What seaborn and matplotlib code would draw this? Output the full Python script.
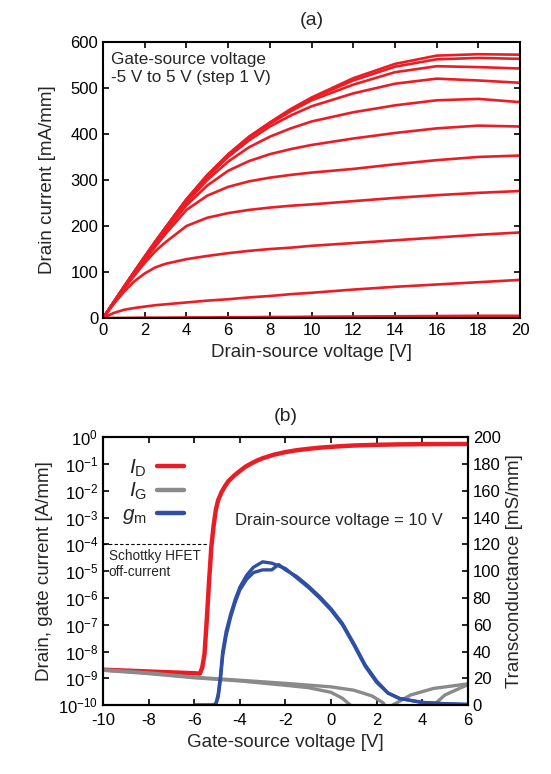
import numpy as np
import pandas as pd
import matplotlib
matplotlib.use('Agg')
import matplotlib.pyplot as plt
from matplotlib.lines import Line2D
import seaborn as sns

sns.set_theme(style='ticks')
plt.rcParams['font.family'] = ['Liberation Sans', 'DejaVu Sans']
plt.rcParams['mathtext.fontset'] = 'custom'
plt.rcParams['mathtext.rm'] = 'Liberation Sans'
plt.rcParams['mathtext.it'] = 'Liberation Sans:italic'
plt.rcParams['axes.unicode_minus'] = False

RED = '#ec1c24'
GRAY = '#8a8a8a'
BLUE = '#2f4fa3'

# (a) output characteristics, one list per gate voltage
vds = [0, 0.5, 1, 1.5, 2, 2.5, 3, 4, 5, 6, 7, 8, 9, 10, 12, 14, 16, 18, 20]
id_m5 = [0, 0.3, 0.5, 0.7, 1, 1, 1, 1.5, 1.5, 2, 2, 2.5, 2.5, 3, 3.5, 4, 4.5, 5, 5]
id_m4 = [0, 11, 18, 22, 25, 28, 30, 34, 38, 41, 45, 48, 52, 55, 62, 68, 73, 78, 83]
id_m3 = [0, 30, 57, 80, 97, 110, 118, 128, 135, 141, 146, 150, 153, 157, 163, 169, 175, 181, 186]
id_m2 = [0, 32, 63, 92, 120, 145, 165, 200, 218, 228, 235, 240, 244, 247, 254, 261, 267, 272, 276]
id_m1 = [0, 33, 65, 96, 126, 155, 183, 235, 266, 285, 297, 305, 311, 316, 324, 334, 343, 350, 353]
id_0 = [0, 33, 66, 98, 129, 159, 189, 245, 288, 320, 341, 356, 367, 376, 390, 402, 412, 418, 416]
id_p1 = [0, 34, 67, 99, 131, 162, 193, 251, 300, 340, 371, 394, 412, 427, 447, 462, 473, 476, 469]
id_p2 = [0, 34, 67, 100, 132, 164, 195, 255, 306, 350, 386, 416, 440, 460, 488, 509, 520, 516, 511]
id_p3 = [0, 34, 68, 101, 133, 165, 196, 257, 309, 354, 392, 422, 449, 473, 507, 534, 547, 545, 542]
id_p4 = [0, 34, 68, 101, 134, 166, 197, 258, 310, 355, 393, 424, 452, 477, 516, 546, 562, 565, 563]
id_p5 = [0, 34, 68, 101, 134, 166, 197, 258, 311, 356, 394, 425, 454, 479, 521, 552, 570, 573, 572]
vgs_list = [-5, -4, -3, -2, -1, 0, 1, 2, 3, 4, 5]
curves = [id_m5, id_m4, id_m3, id_m2, id_m1, id_0, id_p1, id_p2, id_p3, id_p4, id_p5]

out_df = pd.concat([pd.DataFrame({'vds': vds, 'id': c, 'vgs': g})
                    for g, c in zip(vgs_list, curves)])

# (b) transfer characteristics at Vds = 10 V
vg_d = [-10, -8, -6, -5.75, -5.65, -5.55, -5.45, -5.35, -5.25, -5.15, -5.05, -4.95,
        -4.8, -4.65, -4.5, -4.25, -4, -3.75, -3.5, -3.25, -3, -2.5, -2, -1.5, -1, -0.5,
        0, 0.5, 1, 1.5, 2, 3, 4, 6]
i_d = [2.1e-9, 1.8e-9, 1.55e-9, 1.5e-9, 2.5e-9, 8e-9, 1.5e-7, 4e-6, 8e-5, 5e-4, 2e-3, 4.5e-3,
       9e-3, 1.5e-2, 2.3e-2, 3.7e-2, 0.055, 0.08, 0.105, 0.135, 0.165, 0.225, 0.28, 0.33,
       0.37, 0.41, 0.44, 0.47, 0.495, 0.51, 0.525, 0.545, 0.555, 0.565]

vg_g1 = [-10, -8, -6, -4, -2, -1, 0, 0.5, 0.85, 1.1, 2.4, 2.7, 3.5, 4.5, 6]
i_g1 = [2.0e-9, 1.5e-9, 1.05e-9, 8e-10, 5.5e-10, 4.5e-10, 3e-10, 1.8e-10, 1e-10, 3e-11,
        3e-11, 1e-10, 2.4e-10, 4.2e-10, 6.2e-10]
vg_g2 = [-10, -8, -6, -4, -2, 0, 1, 1.8, 2.3, 2.5, 4.2, 4.5, 5, 6]
i_g2 = [2.1e-9, 1.6e-9, 1.1e-9, 8.5e-10, 6.5e-10, 4.8e-10, 3.6e-10, 2.2e-10, 1.2e-10,
        3e-11, 3e-11, 1e-10, 2.4e-10, 5.8e-10]

vg_m = [-6, -5.2, -5.05, -4.95, -4.85, -4.75, -4.6, -4.4, -4.2, -4.0, -3.7, -3.4, -3.0,
        -2.6, -2.3, -2.0, -1.5, -1.0, -0.5, 0, 0.5, 1.0, 1.5, 2.0, 2.5, 3, 4, 5, 6]
gm_1 = [0, 0, 1, 8, 22, 40, 55, 68, 79, 88, 97, 103, 107, 106, 104,
        102, 95, 88, 80, 71, 60, 45, 29, 17, 9, 5, 2, 1, 0.5]
gm_2 = [0, 0, 1, 6, 19, 37, 52, 66, 77, 86, 94, 99, 101, 101, 105,
        101, 96, 89, 81, 72, 61, 46, 30, 18, 9, 5, 2, 1, 0.5]

fig = plt.figure(figsize=(5.51, 7.74), dpi=100)
ax_a = fig.add_axes([0.187, 0.589, 0.757, 0.357])
ax_b = fig.add_axes([0.187, 0.089, 0.662, 0.346])

sns.lineplot(data=out_df, x='vds', y='id', hue='vgs', palette=[RED] * 11,
             estimator=None, legend=False, linewidth=1.9, ax=ax_a)
ax_a.set_xlim(0, 20)
ax_a.set_ylim(0, 600)
ax_a.set_xticks(range(0, 21, 2))
ax_a.set_yticks(range(0, 601, 100))
ax_a.set_xlabel('Drain-source voltage [V]', fontsize=13.5)
ax_a.set_ylabel('Drain current [mA/mm]', fontsize=13.5, labelpad=10)
ax_a.set_title('(a)', fontsize=14, pad=12)
ax_a.text(0.4, 578, 'Gate-source voltage\n-5 V to 5 V (step 1 V)', fontsize=12.3,
          va='top', ha='left', linespacing=1.25)

# (b)
sns.lineplot(x=vg_d, y=i_d, color=RED, linewidth=3.2, sort=False, estimator=None, ax=ax_b)
sns.lineplot(x=vg_g1, y=i_g1, color=GRAY, linewidth=2.4, sort=False, estimator=None, ax=ax_b)
sns.lineplot(x=vg_g2, y=i_g2, color=GRAY, linewidth=2.4, sort=False, estimator=None, ax=ax_b)
ax_b.set_yscale('log')
ax_b.set_xlim(-10, 6)
ax_b.set_ylim(1e-10, 1)
ax_b.set_xticks(range(-10, 7, 2))
ax_b.set_yticks([10.0 ** k for k in range(-10, 1)])
ax_b.minorticks_off()
ax_b.set_xlabel('Gate-source voltage [V]', fontsize=13.5)
ax_b.set_ylabel('Drain, gate current [A/mm]', fontsize=13.5)
ax_b.set_title('(b)', fontsize=14, pad=12)
ax_b.plot([-10, -5.45], [1e-4, 1e-4], color='black', linestyle=(0, (3, 2)), linewidth=0.8)
ax_b.text(-9.75, 6.5e-5, 'Schottky HFET\noff-current', fontsize=9.8, va='top', ha='left',
          linespacing=1.15)
ax_b.text(-4.2, 8e-4, 'Drain-source voltage = 10 V', fontsize=12, va='center', ha='left')

ax_g = ax_b.twinx()
sns.lineplot(x=vg_m, y=gm_1, color=BLUE, linewidth=2.4, sort=False, estimator=None, ax=ax_g)
sns.lineplot(x=vg_m, y=gm_2, color=BLUE, linewidth=2.4, sort=False, estimator=None, ax=ax_g)
ax_g.set_ylim(0, 200)
ax_g.set_yticks(range(0, 201, 20))
ax_g.set_ylabel('Transconductance [mS/mm]', fontsize=13.5)

handles = [Line2D([], [], color=RED, linewidth=3.2),
           Line2D([], [], color=GRAY, linewidth=3.2),
           Line2D([], [], color=BLUE, linewidth=3.2)]
ax_g.legend(handles, [r'$I_\mathrm{D}$', r'$I_\mathrm{G}$', r'$g_\mathrm{m}$'],
            loc='upper left', bbox_to_anchor=(0.0, 0.995), markerfirst=False, frameon=False,
            fontsize=15, handlelength=1.3, handletextpad=0.5, labelspacing=0.12)

for ax in (ax_a, ax_b, ax_g):
    for s in ax.spines.values():
        s.set_linewidth(1.5)
        s.set_color('black')
    ax.tick_params(direction='in', length=4.5, width=1.2, labelsize=12, colors='black')
ax_a.tick_params(top=True, right=True)
ax_b.tick_params(top=True, right=False)
ax_b.tick_params(axis='x', pad=6)

fig.savefig('out.png', dpi=100)
